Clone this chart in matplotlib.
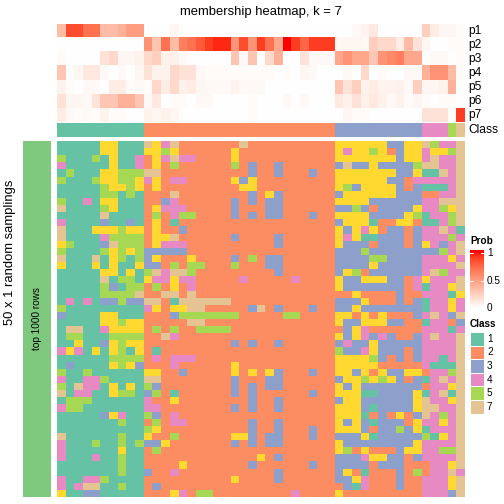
import numpy as np
import matplotlib
matplotlib.use("Agg")
import matplotlib.pyplot as plt
from matplotlib.colors import ListedColormap, BoundaryNorm
from matplotlib.patches import Rectangle

plt.rcParams['font.family'] = ['Liberation Sans', 'DejaVu Sans']

# ---------------- data ----------------
title = "membership heatmap, k = 7"
prob_labels = ["p1", "p2", "p3", "p4", "p5", "p6", "p7"]
class_ids = [1, 2, 3, 4, 5, 6, 7]
class_colors = ["#66C2A5", "#FC8D62", "#8DA0CB", "#E78AC3", "#A6D854", "#FFD92F", "#E5C494"]
legend_classes = [1, 2, 3, 4, 5, 7]
prob_ticks = [0, 0.5, 1]
prob_tick_labels = ["0", "0.5", "1"]
left_label = "50 x 1 random samplings"
bar_label = "top 1000 rows"

sample_class = [1, 1, 1, 1, 1, 1, 1, 1, 1, 1,
                2, 2, 2, 2, 2, 2, 2, 2, 2, 2, 2, 2, 2, 2, 2, 2, 2, 2, 2, 2, 2, 2,
                3, 3, 3, 3, 3, 3, 3, 3, 3, 3,
                4, 4, 4, 5, 7]

p1 = [0.35, 0.85, 0.85, 0.7, 0.7, 0.35, 0.35, 0.4, 0.5, 0.5,
      0, 0, 0, 0.05, 0, 0, 0, 0, 0, 0, 0, 0, 0, 0, 0, 0, 0, 0, 0, 0, 0, 0,
      0, 0, 0.03, 0.06, 0.12, 0, 0, 0, 0, 0,
      0.25, 0.1, 0.05, 0.05, 0.02]
p2 = [0, 0, 0, 0, 0, 0, 0, 0, 0, 0,
      0.55, 0.3, 0.7, 0.35, 0.65, 0.7, 0.8, 0.9, 0.95, 0.95, 0.55, 0.85, 0.55, 0.9, 0.7, 0.45, 1.0, 0.9, 0.75, 0.9, 0.9, 0.9,
      0.03, 0.05, 0.05, 0.03, 0.25, 0.2, 0.2, 0.1, 0.35, 0.15,
      0.05, 0, 0, 0.02, 0.02]
p3 = [0.02, 0, 0, 0, 0, 0.15, 0.2, 0.05, 0.05, 0.07,
      0.2, 0.25, 0.08, 0.08, 0.03, 0, 0, 0, 0, 0, 0.3, 0.03, 0.3, 0, 0.2, 0.4, 0, 0, 0.15, 0.03, 0.03, 0.03,
      0.45, 0.55, 0.45, 0.45, 0.3, 0.55, 0.6, 0.65, 0.45, 0.45,
      0, 0.03, 0.03, 0, 0.02]
p4 = [0.3, 0, 0.05, 0.12, 0.12, 0.03, 0, 0.03, 0, 0.05,
      0.15, 0.07, 0.07, 0.2, 0.15, 0.15, 0.03, 0.02, 0.02, 0.02, 0.02, 0.02, 0.02, 0.02, 0.02, 0, 0.02, 0, 0.05, 0.03, 0, 0,
      0, 0.03, 0, 0.2, 0, 0.02, 0, 0, 0.03, 0.03,
      0.4, 0.55, 0.55, 0.35, 0.02]
p5 = [0.07, 0.02, 0, 0.03, 0.03, 0, 0.1, 0.1, 0.02, 0.03,
      0.02, 0.2, 0.1, 0.2, 0.08, 0.1, 0.05, 0.03, 0.03, 0.03, 0.06, 0.03, 0.03, 0.03, 0, 0, 0, 0, 0, 0, 0, 0,
      0.3, 0.15, 0.25, 0.07, 0.1, 0.06, 0.06, 0.08, 0.03, 0.25,
      0.05, 0.05, 0.07, 0.4, 0]
p6 = [0.15, 0.05, 0.05, 0.03, 0.15, 0.3, 0.3, 0.4, 0.4, 0.3,
      0.03, 0.12, 0, 0.02, 0.02, 0, 0.03, 0.03, 0, 0, 0, 0, 0.02, 0, 0, 0, 0.03, 0, 0.03, 0, 0, 0,
      0.12, 0.08, 0.15, 0.08, 0.12, 0.07, 0.03, 0.07, 0.02, 0.05,
      0.02, 0, 0.02, 0.02, 0]
p7 = [0.1, 0.03, 0.02, 0.03, 0.02, 0.07, 0.02, 0.02, 0, 0,
      0.07, 0.05, 0.07, 0.05, 0, 0, 0, 0, 0, 0, 0, 0, 0.02, 0, 0, 0, 0, 0, 0, 0, 0, 0,
      0, 0.05, 0.02, 0.02, 0, 0, 0, 0, 0, 0,
      0.15, 0.15, 0.15, 0.02, 0.9]

# class labels of each random sampling (rows) for each sample (columns)
membership_rows = [
    "1111166111764722" "222227222222222" "2666666336675447",
    "1111166111665622" "222262222222222" "2646656236646657",
    "5111516114264744" "222262222222222" "2666666636647447",
    "4111116114262522" "222252322322222" "2373363333577447",
    "1511166555772222" "222222322322232" "2666666633611747",
    "5111566556462442" "222263622222222" "2666666332444447",
    "1111156656262222" "222226622222222" "2653666632311147",
    "1111155151222722" "222222326322222" "2366666633322447",
    "5114166111223422" "222232323322222" "2666633333344777",
    "7111156111264442" "222232223322222" "2335323333644567",
    "1111171111252455" "222232323322232" "2666633336514457",
    "4111131131262122" "222222222222222" "2366612266211457",
    "7111666566262232" "222222222222222" "2636462332344741",
    "7111145555266722" "222232222322222" "2646113332344454",
    "6511137555264442" "222222222322222" "2633323332364347",
    "5111156565333332" "222222222222222" "2333533333333547",
    "7111716515362226" "222232523322222" "2333355333344464",
    "6111616116332525" "522252223322222" "2333363333344447",
    "1111166161574775" "222222222322222" "2365233333347544",
    "1111171551644644" "222224222224222" "2633666332464447",
    "1111153155252624" "222222222222222" "2633333332414467",
    "1111155557227727" "222222222222222" "2226222232244416",
    "1414133533772177" "777722222222222" "2333622232314464",
    "5111111111462667" "722222372322232" "2336333333314464",
    "3111166111222355" "555552222255222" "2662626222347437",
    "1111166566222227" "722222222222222" "2633666332214423",
    "1771146666252522" "555522222222222" "2236422222244414",
    "1551115555227422" "222222222222222" "2636434322347447",
    "1161136566222222" "222232322322222" "2343363333344447",
    "4641616516212222" "222222222222222" "2533463332344447",
    "1111115555242444" "222222222222222" "2666653232344147",
    "1311116563222422" "222262222222222" "2666662222241117",
    "5115111111662232" "222262626322232" "2663626336624457",
    "4114451111772222" "222232223322222" "2366565632314747",
    "5174416161532222" "222232323322222" "2636333333324467",
    "7144116551352122" "222232322222232" "2666113333614717",
    "1555111111422622" "222222322322222" "2366333333674467",
    "4551111111442222" "222232322322222" "2666313333677447",
    "1111136411532422" "222222222222222" "2666123262374547",
    "1111111511252442" "222222322322222" "2636313332644647",
    "1111111111562222" "222222322322232" "2666323353614447",
    "7111111511622522" "222266323322232" "2333613333351647",
    "4111511515336222" "222232323322222" "2633333333644447",
    "4111111611252222" "222222222222222" "2652622236644557",
    "4111411511222222" "222222262322222" "2333466332344447",
    "1111111511222262" "222222322222232" "2333323332224467",
    "1111111511322422" "222222222322222" "2362122232524474",
    "4114451111222222" "222262222322222" "2336422232244467",
    "4147711511232222" "222222222222222" "2231422232244467",
    "6113311111222642" "552222222224222" "2622222222244437",
]

# ---------------- helpers ----------------
def srgb_to_lab(rgb):
    rgb = np.asarray(rgb, float)
    lin = np.where(rgb <= 0.04045, rgb / 12.92, ((rgb + 0.055) / 1.055) ** 2.4)
    M = np.array([[0.4124, 0.3576, 0.1805], [0.2126, 0.7152, 0.0722], [0.0193, 0.1192, 0.9505]])
    xyz = M @ lin
    wp = np.array([0.95047, 1.0, 1.08883])
    t = xyz / wp
    f = np.where(t > (6 / 29) ** 3, np.cbrt(t), t / (3 * (6 / 29) ** 2) + 4 / 29)
    return np.array([116 * f[1] - 16, 500 * (f[0] - f[1]), 200 * (f[1] - f[2])])

def lab_to_srgb(lab):
    L, a, b = lab
    fy = (L + 16) / 116
    fx = fy + a / 500
    fz = fy - b / 200
    f = np.array([fx, fy, fz])
    t = np.where(f > 6 / 29, f ** 3, 3 * (6 / 29) ** 2 * (f - 4 / 29))
    xyz = t * np.array([0.95047, 1.0, 1.08883])
    Minv = np.array([[3.2406, -1.5372, -0.4986], [-0.9689, 1.8758, 0.0415], [0.0557, -0.2040, 1.0570]])
    lin = Minv @ xyz
    lin = np.clip(lin, 0, 1)
    rgb = np.where(lin <= 0.0031308, 12.92 * lin, 1.055 * lin ** (1 / 2.4) - 0.055)
    return np.clip(rgb, 0, 1)

lab_w = srgb_to_lab([1, 1, 1])
lab_r = srgb_to_lab([1, 0, 0])
prob_cmap = ListedColormap([lab_to_srgb(lab_w + (lab_r - lab_w) * t) for t in np.linspace(0, 1, 256)])
class_cmap = ListedColormap(class_colors)
class_norm = BoundaryNorm(np.arange(0.5, 8.5, 1), class_cmap.N)

W = H = 504.0
fig = plt.figure(figsize=(7, 7), dpi=72)

def add_ax(x0, y0, x1, y1):
    ax = fig.add_axes([x0 / W, 1 - y1 / H, (x1 - x0) / W, (y1 - y0) / H])
    ax.set_axis_off()
    return ax

X0, X1 = 57, 465

# membership probability heatmap
probs = np.array([p1, p2, p3, p4, p5, p6, p7])
ax_p = add_ax(X0, 23.5, X1, 122.5)
ax_p.imshow(probs, cmap=prob_cmap, vmin=0, vmax=1, aspect='auto', interpolation='nearest')
for i, lab in enumerate(prob_labels):
    ax_p.annotate(lab, xy=(1, i), xycoords=('axes fraction', 'data'), xytext=(3, 0),
                  textcoords='offset points', va='center', ha='left', fontsize=12)

# class annotation
ax_c = add_ax(X0, 123.3, X1, 137.3)
ax_c.imshow(np.array([sample_class]), cmap=class_cmap, norm=class_norm, aspect='auto', interpolation='nearest')
ax_c.annotate("Class", xy=(1, 0), xycoords=('axes fraction', 'data'), xytext=(3, 0),
              textcoords='offset points', va='center', ha='left', fontsize=12)

# main heatmap
mat = np.array([[int(ch) for ch in row] for row in membership_rows])
ax_m = add_ax(X0, 141, X1, 497)
ax_m.imshow(mat, cmap=class_cmap, norm=class_norm, aspect='auto', interpolation='nearest')

# left bar
fig.add_artist(Rectangle((23 / W, 1 - 497 / H), 28 / W, 356 / H, transform=fig.transFigure,
                         facecolor='#7FC97F', edgecolor='none'))
fig.text(37 / W, 1 - 319 / H, bar_label, rotation=90, ha='center', va='center', fontsize=10)
fig.text(10 / W, 1 - 252 / H, left_label, rotation=90, ha='center', va='center', fontsize=13)

# title
fig.text(261 / W, 1 - 12 / H, title, ha='center', va='center', fontsize=13)

# Prob legend
fig.text(470 / W, 1 - 241 / H, "Prob", ha='left', va='center', fontsize=10, fontweight='bold')
ax_cb = fig.add_axes([470 / W, 1 - 308 / H, 14 / W, 58 / H])
ax_cb.set_axis_off()
top_val = (308 - 250) / 55.0
grad = np.linspace(0, top_val, 200).reshape(-1, 1)
ax_cb.imshow(np.clip(grad, 0, 1), cmap=prob_cmap, vmin=0, vmax=1, aspect='auto', origin='lower',
             extent=[0, 1, 0, top_val], interpolation='bilinear')
ax_cb.set_xlim(0, 1)
ax_cb.set_ylim(0, top_val)
for v, lab in zip(prob_ticks, prob_tick_labels):
    if v > 0:
        ax_cb.plot([0, 0.2], [v, v], color='white', lw=1)
        ax_cb.plot([0.8, 1], [v, v], color='white', lw=1)
    fig.text(487 / W, 1 - (308 - 55 * v) / H, lab, ha='left', va='center', fontsize=10)

# Class legend
fig.text(470 / W, 1 - 324 / H, "Class", ha='left', va='center', fontsize=10, fontweight='bold')
for k, c in enumerate(legend_classes):
    top = 332 + 13.6 * k
    fig.add_artist(Rectangle((470 / W, 1 - (top + 13.6) / H), 14 / W, 13.6 / H, transform=fig.transFigure,
                             facecolor=class_colors[c - 1], edgecolor='white', lw=1))
    fig.text(487 / W, 1 - (top + 6.8) / H, str(c), ha='left', va='center', fontsize=10)

fig.savefig("out.png", dpi=72)
